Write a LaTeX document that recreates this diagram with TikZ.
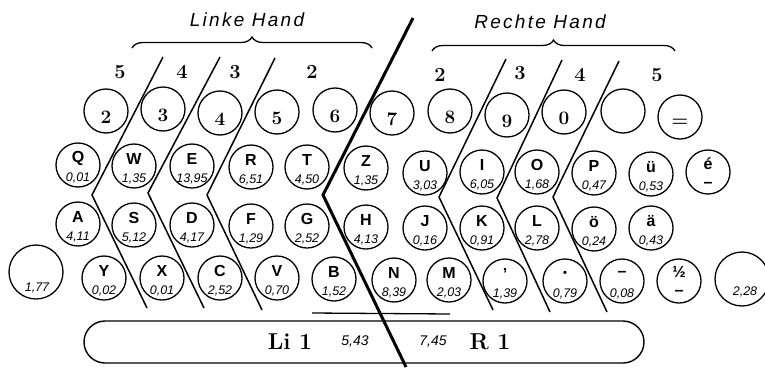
\documentclass[tikz,border=0pt]{standalone}
\usepackage{fontspec}
\newfontfamily\keyfont{Liberation Sans}
\usetikzlibrary{decorations.pathreplacing}
\tikzset{
  keyc/.style={circle, draw, line width=1.3pt, minimum size=44pt, inner sep=0pt},
  bigc/.style={keyc, minimum size=54pt},
  lett/.style={font=\keyfont\bfseries\fontsize{16}{16}\selectfont, inner sep=0pt},
  numt/.style={font=\keyfont\itshape\fontsize{12.5}{12.5}\selectfont, inner sep=0pt},
  digt/.style={font=\bfseries\fontsize{19}{19}\selectfont, inner sep=0pt},
  fing/.style={font=\bfseries\fontsize{20}{20}\selectfont, inner sep=0pt},
  handt/.style={font=\keyfont\itshape\addfontfeature{LetterSpace=12}\fontsize{19}{19}\selectfont, inner sep=0pt},
  bart/.style={font=\bfseries\fontsize{23}{23}\selectfont, inner sep=0pt},
  barn/.style={font=\keyfont\itshape\fontsize{14}{14}\selectfont, inner sep=0pt},
  divline/.style={line width=1.5pt},
  thickline/.style={line width=3pt},
  hbrace/.style={decorate, decoration={brace, amplitude=11pt}, line width=1.3pt}
}
\newcommand\digkey[4]{\node[keyc] (#1) at (#2,#3) {}; \node[digt] at (#2,#3+6) {#4};}
\newcommand\letkey[5]{\node[keyc] (#1) at (#2,#3) {}; \node[lett] at (#2,#3-7) {#4}; \node[numt] at (#2,#3+13) {#5};}
\begin{document}
\begin{tikzpicture}[x=1pt,y=-1pt]
\useasboundingbox (0,0) rectangle (765,367);
% hands
\node[handt] (lh) at (247,20) {Linke Hand};
\node[handt] (rh) at (540,22) {Rechte Hand};
\draw[hbrace] (132,48) -- (372,48);
\draw[hbrace] (432,51) -- (675,51);
% finger numbers
\node[fing] (f5l) at (120,72) {5};
\node[fing] (f4l) at (182,72) {4};
\node[fing] (f3l) at (235,72) {3};
\node[fing] (f2l) at (312,72) {2};
\node[fing] (f2r) at (440,75) {2};
\node[fing] (f3r) at (520,73) {3};
\node[fing] (f4r) at (580,75) {4};
\node[fing] (f5r) at (657,75) {5};
% number row
\digkey{k2}{106}{111}{2}
\digkey{k3}{163}{109}{3}
\digkey{k4}{220}{113}{4}
\digkey{k5}{277}{112}{5}
\digkey{k6}{335}{110}{6}
\digkey{k7}{392}{113}{7}
\digkey{k8}{450}{111}{8}
\digkey{k9}{507}{115}{9}
\digkey{k0}{564}{112}{0}
\digkey{kb}{623}{111}{}
\digkey{keq}{680}{117}{=}
% Q row
\letkey{kQ}{78}{165}{Q}{0,01}
\letkey{kW}{134}{166}{W}{1,35}
\letkey{kE}{192}{166}{E}{13,95}
\letkey{kR}{251}{167}{R}{6,51}
\letkey{kT}{307}{167}{T}{4,50}
\letkey{kZ}{366}{168}{Z}{1,35}
\letkey{kU}{425}{173}{U}{3,03}
\letkey{kI}{482}{172}{I}{6,05}
\letkey{kO}{537}{172}{O}{1,68}
\letkey{kP}{594}{173}{P}{0,47}
\letkey{kue}{651}{174}{ü}{0,53}
\node[keyc] (keac) at (708,172) {};
\node[lett] at (708,164) {é};
\node[lett] at (708,185) {–};
% A row
\letkey{kA}{78}{224}{A}{4,11}
\letkey{kS}{134}{225}{S}{5,12}
\letkey{kD}{192}{225}{D}{4,17}
\letkey{kF}{251}{226}{F}{1,29}
\letkey{kG}{307}{226}{G}{2,52}
\letkey{kH}{366}{227}{H}{4,13}
\letkey{kJ}{425}{228}{J}{0,16}
\letkey{kK}{482}{228}{K}{0,91}
\letkey{kL}{537}{228}{L}{2,78}
\letkey{koe}{594}{229}{ö}{0,24}
\letkey{kae}{651}{228}{ä}{0,43}
% Y row
\node[bigc] (shl) at (36,272) {};
\node[numt] at (37,288) {1,77};
\letkey{kY}{104}{278}{Y}{0,02}
\letkey{kX}{162}{278}{X}{0,01}
\letkey{kC}{220}{278}{C}{2,52}
\letkey{kV}{277}{278}{V}{0,70}
\letkey{kB}{334}{279}{B}{1,52}
\letkey{kN}{394}{280}{N}{8,39}
\letkey{kM}{449}{280}{M}{2,03}
\letkey{kap}{505}{281}{’}{1,39}
\letkey{kdot}{565}{281}{{\fontsize{11}{11}\selectfont•}}{0,79}
\letkey{kmin}{622}{281}{–}{0,08}
\node[keyc] (khalf) at (679,281) {};
\node[lett] at (679,272) {½};
\node[lett] at (679,293) {–};
\node[bigc] (shr) at (742,279) {};
\node[numt] at (745,292) {2,28};
% space bar
\node[draw, line width=1.4pt, rounded corners=21pt, minimum width=560pt, minimum height=42pt, inner sep=0pt] (space) at (364,342) {};
\node[bart] (li1) at (290,342) {Li 1};
\node[barn] (n543) at (355,342) {5,43};
\node[barn] (n745) at (433,342) {7,45};
\node[bart] (r1) at (490,342) {R 1};
\draw[line width=1.3pt] (312,313) -- (450,314);
% finger divisions
\draw[divline] (163,57) -- (92,195) -- (147,308);
\draw[divline] (220,57) -- (148,193) -- (204,308);
\draw[divline] (275,58) -- (207,195) -- (262,310);
\draw[divline] (506,59) -- (439,197) -- (493,310);
\draw[divline] (562,60) -- (497,198) -- (550,312);
\draw[divline] (619,61) -- (553,197) -- (607,312);
\draw[thickline] (413,18) -- (323,195) -- (406,367);
\end{tikzpicture}
\end{document}
